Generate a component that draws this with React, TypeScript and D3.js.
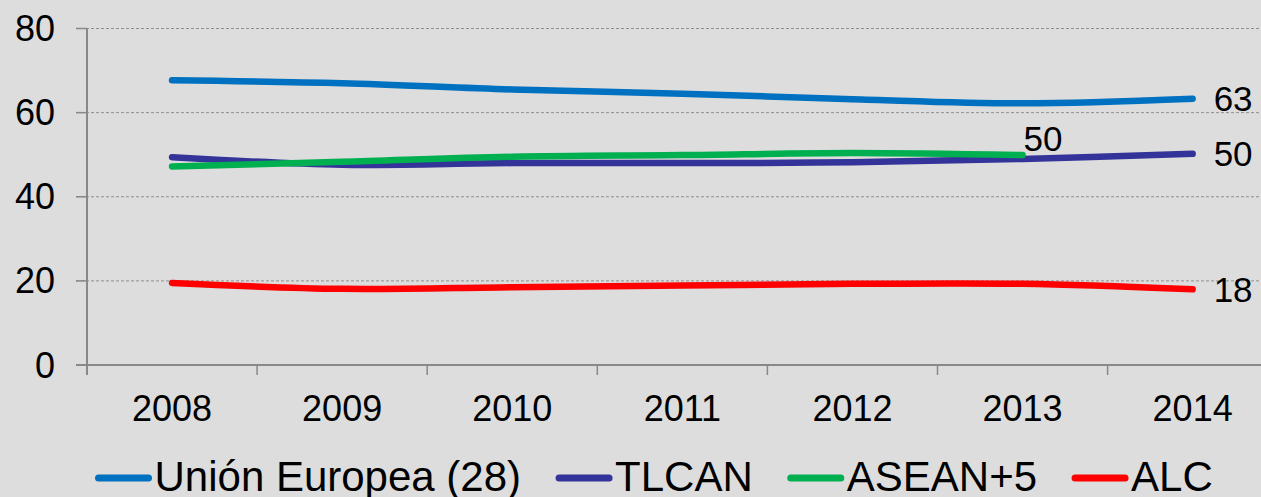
import React, { useRef, useEffect } from "react";
import * as d3 from "d3";

// values
const years = ["2008", "2009", "2010", "2011", "2012", "2013", "2014"];
const ueValues = [67.7, 67.0, 65.5, 64.5, 63.2, 62.2, 63.3];
const tlcanValues = [49.4, 47.6, 48.0, 48.0, 48.2, 49.0, 50.2];
const aseanValues = [47.2, 48.3, 49.5, 49.9, 50.4, 49.9];
const alcValues = [19.5, 18.1, 18.5, 18.9, 19.3, 19.3, 18.0];
const yTicks = [0, 20, 40, 60, 80];

const seriesNames = ["Unión Europea (28)", "TLCAN", "ASEAN+5", "ALC"];
const seriesColors = ["#0070C0", "#333399", "#00B050", "#FF0000"];
const endLabels = ["63", "50", "50", "18"];

const FONT = "'Liberation Sans', Arial, sans-serif";

export default function App() {
  const svgRef = useRef<SVGSVGElement>(null);

  useEffect(() => {
    const width = 1261;
    const height = 497;
    const svg = d3.select(svgRef.current);
    svg.selectAll("*").remove();
    svg.attr("width", width).attr("height", height);

    svg.append("rect").attr("width", width).attr("height", height).attr("fill", "#DDDDDD");

    const left = 87;
    const band = 170.1;
    const x = d3
      .scalePoint<string>()
      .domain(years)
      .range([left + band / 2, left + band * 6.5]);
    const y = d3.scaleLinear().domain([0, 80]).range([365, 28.5]);

    // gridlines
    svg
      .selectAll("line.grid")
      .data(yTicks.filter((t) => t > 0))
      .join("line")
      .attr("class", "grid")
      .attr("x1", 76)
      .attr("x2", width)
      .attr("y1", (d) => y(d))
      .attr("y2", (d) => y(d))
      .attr("stroke", "#8f8f8f")
      .attr("stroke-width", 1)
      .attr("stroke-dasharray", "3 2");

    // axes
    const axisColor = "#888888";
    svg
      .append("line")
      .attr("x1", left)
      .attr("x2", left)
      .attr("y1", y(80))
      .attr("y2", y(0) + 10)
      .attr("stroke", axisColor)
      .attr("stroke-width", 2);
    svg
      .append("line")
      .attr("x1", 76)
      .attr("x2", width)
      .attr("y1", y(0))
      .attr("y2", y(0))
      .attr("stroke", axisColor)
      .attr("stroke-width", 2);
    svg
      .selectAll("line.ytick")
      .data(yTicks)
      .join("line")
      .attr("class", "ytick")
      .attr("x1", 76)
      .attr("x2", left)
      .attr("y1", (d) => y(d))
      .attr("y2", (d) => y(d))
      .attr("stroke", axisColor)
      .attr("stroke-width", 1.5);
    svg
      .selectAll("line.xtick")
      .data(d3.range(years.length))
      .join("line")
      .attr("class", "xtick")
      .attr("x1", (i) => left + i * band)
      .attr("x2", (i) => left + i * band)
      .attr("y1", y(0))
      .attr("y2", y(0) + 10)
      .attr("stroke", axisColor)
      .attr("stroke-width", 1.5);

    // tick labels
    svg
      .selectAll("text.ylab")
      .data(yTicks)
      .join("text")
      .attr("class", "ylab")
      .attr("x", 55)
      .attr("y", (d) => y(d) + 12.5)
      .attr("text-anchor", "end")
      .attr("font-family", FONT)
      .attr("font-size", 36)
      .attr("fill", "#000")
      .text((d) => d);

    svg
      .selectAll("text.xlab")
      .data(years)
      .join("text")
      .attr("class", "xlab")
      .attr("x", (d) => x(d)!)
      .attr("y", 421)
      .attr("text-anchor", "middle")
      .attr("font-family", FONT)
      .attr("font-size", 36)
      .attr("fill", "#000")
      .text((d) => d);

    // lines
    const allSeries = [ueValues, tlcanValues, aseanValues, alcValues];
    const line = d3
      .line<number>()
      .x((_, i) => x(years[i])!)
      .y((d) => y(d))
      .curve(d3.curveCatmullRom.alpha(0.5));

    allSeries.forEach((vals, s) => {
      svg
        .append("path")
        .datum(vals)
        .attr("fill", "none")
        .attr("stroke", seriesColors[s])
        .attr("stroke-width", 6.5)
        .attr("stroke-linecap", "round")
        .attr("stroke-linejoin", "round")
        .attr("d", line);
    });

    // end labels
    allSeries.forEach((vals, s) => {
      const i = vals.length - 1;
      const px = x(years[i])!;
      const py = y(vals[i]);
      const above = s === 2;
      svg
        .append("text")
        .attr("x", above ? px + 1 : px + 21)
        .attr("y", above ? py - 4 : py + 12.5)
        .attr("font-family", FONT)
        .attr("font-size", 35)
        .attr("fill", "#000")
        .text(endLabels[s]);
    });

    // legend
    let lx = 98.5;
    const ly = 478;
    seriesNames.forEach((name, s) => {
      svg
        .append("line")
        .attr("x1", lx)
        .attr("x2", lx + 50)
        .attr("y1", ly)
        .attr("y2", ly)
        .attr("stroke", seriesColors[s])
        .attr("stroke-width", 7)
        .attr("stroke-linecap", "round");
      const t = svg
        .append("text")
        .attr("x", lx + 56)
        .attr("y", 491)
        .attr("font-family", FONT)
        .attr("font-size", 42)
        .attr("fill", "#000")
        .text(name);
      const w = (t.node() as SVGTextElement).getComputedTextLength();
      lx = lx + 56 + w + 38;
    });
  }, []);

  return (
    <svg
      ref={svgRef}
      style={{ position: "absolute", left: 0, top: 0, display: "block" }}
    />
  );
}
